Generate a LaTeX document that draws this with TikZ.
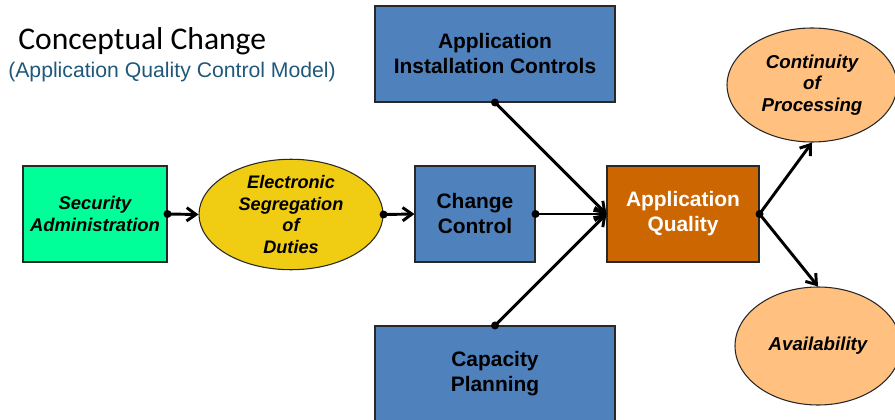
\documentclass[tikz,border=0pt]{standalone}
\usepackage{fontspec}
\setmainfont{Liberation Sans}
\newfontfamily\carlito{Carlito}
\usetikzlibrary{shapes.geometric,arrows.meta}

\definecolor{secgreen}{RGB}{0,255,153}
\definecolor{dutyyellow}{RGB}{240,204,18}
\definecolor{ctrlblue}{RGB}{79,129,189}
\definecolor{qualorange}{RGB}{204,102,0}
\definecolor{goalpeach}{RGB}{255,192,128}
\definecolor{subteal}{RGB}{31,88,122}
\definecolor{edgegray}{RGB}{40,40,40}

\tikzset{
  x=0.75pt, y=-0.75pt,
  box/.style={rectangle, draw=edgegray, line width=0.8pt, inner sep=0pt,
    align=center, font=\fontsize{15.7}{18.75}\selectfont\bfseries},
  italbox/.style={box, font=\fontsize{13.8}{16.5}\selectfont\bfseries\itshape},
  oval/.style={ellipse, draw=edgegray, line width=0.8pt, inner sep=0pt,
    align=center, font=\fontsize{13.6}{16.2}\selectfont\bfseries\itshape},
  goal/.style={oval, fill=goalpeach, font=\fontsize{14}{16.2}\selectfont\bfseries\itshape},
  link/.style={line width=2.2pt, -{Straight Barb[length=7pt,width=10pt,line width=2.2pt]}},
  dot/.style={fill=black}
}

\begin{document}
\begin{tikzpicture}
\useasboundingbox (0,0) rectangle (895,420);

% headings
\node[anchor=base west, inner sep=0pt, font=\carlito\fontsize{23.7}{27}\selectfont] (title) at (18,50) {Conceptual Change};
\node[anchor=base west, inner sep=0pt, text=subteal, font=\fontsize{15.9}{18}\selectfont] (subtitle) at (8,78) {(Application Quality Control Model)};

% process blocks
\node[italbox, fill=secgreen, minimum width=108pt, minimum height=72pt] (sec) at (95,214) {Security\\Administration};
\node[oval, fill=dutyyellow, minimum width=138pt, minimum height=77pt] (duty) at (291,214.5) {Electronic\\Segregation\\of\\Duties};
\node[box, fill=ctrlblue, minimum width=90pt, minimum height=72pt] (chg) at (475,214) {Change\\Control};
\node[box, fill=ctrlblue, minimum width=180pt, minimum height=72pt] (inst) at (495,54) {Application\\Installation Controls};
\node[box, fill=ctrlblue, minimum width=180pt, minimum height=72pt] (cap) at (495,374) {Capacity\\Planning};
\node[box, fill=qualorange, text=white, minimum width=114pt, minimum height=72pt] (qual) at (683,214) {Application\\Quality};
\node[goal, minimum width=127.5pt, minimum height=85.5pt] (cont) at (812,85) {Continuity\\of\\Processing};
\node[goal, minimum width=124.5pt, minimum height=88.5pt] (avail) at (818,346) {Availability};

% connectors
\draw[link] (sec.east) -- (duty.west);
\draw[link] (duty.east) -- (chg.west);
\draw[link] (chg.east) -- (qual.west);
\draw[link] (inst.south) -- (qual.west);
\draw[link] (cap.north) -- (qual.west);
\draw[link] (qual.east) -- (cont.south);
\draw[link] (qual.east) -- (avail.north);

% connector origins
\foreach \p in {sec.east, duty.east, chg.east, inst.south, cap.north, qual.east}
  \fill[dot] (\p) circle[radius=3pt];
\end{tikzpicture}
\end{document}
